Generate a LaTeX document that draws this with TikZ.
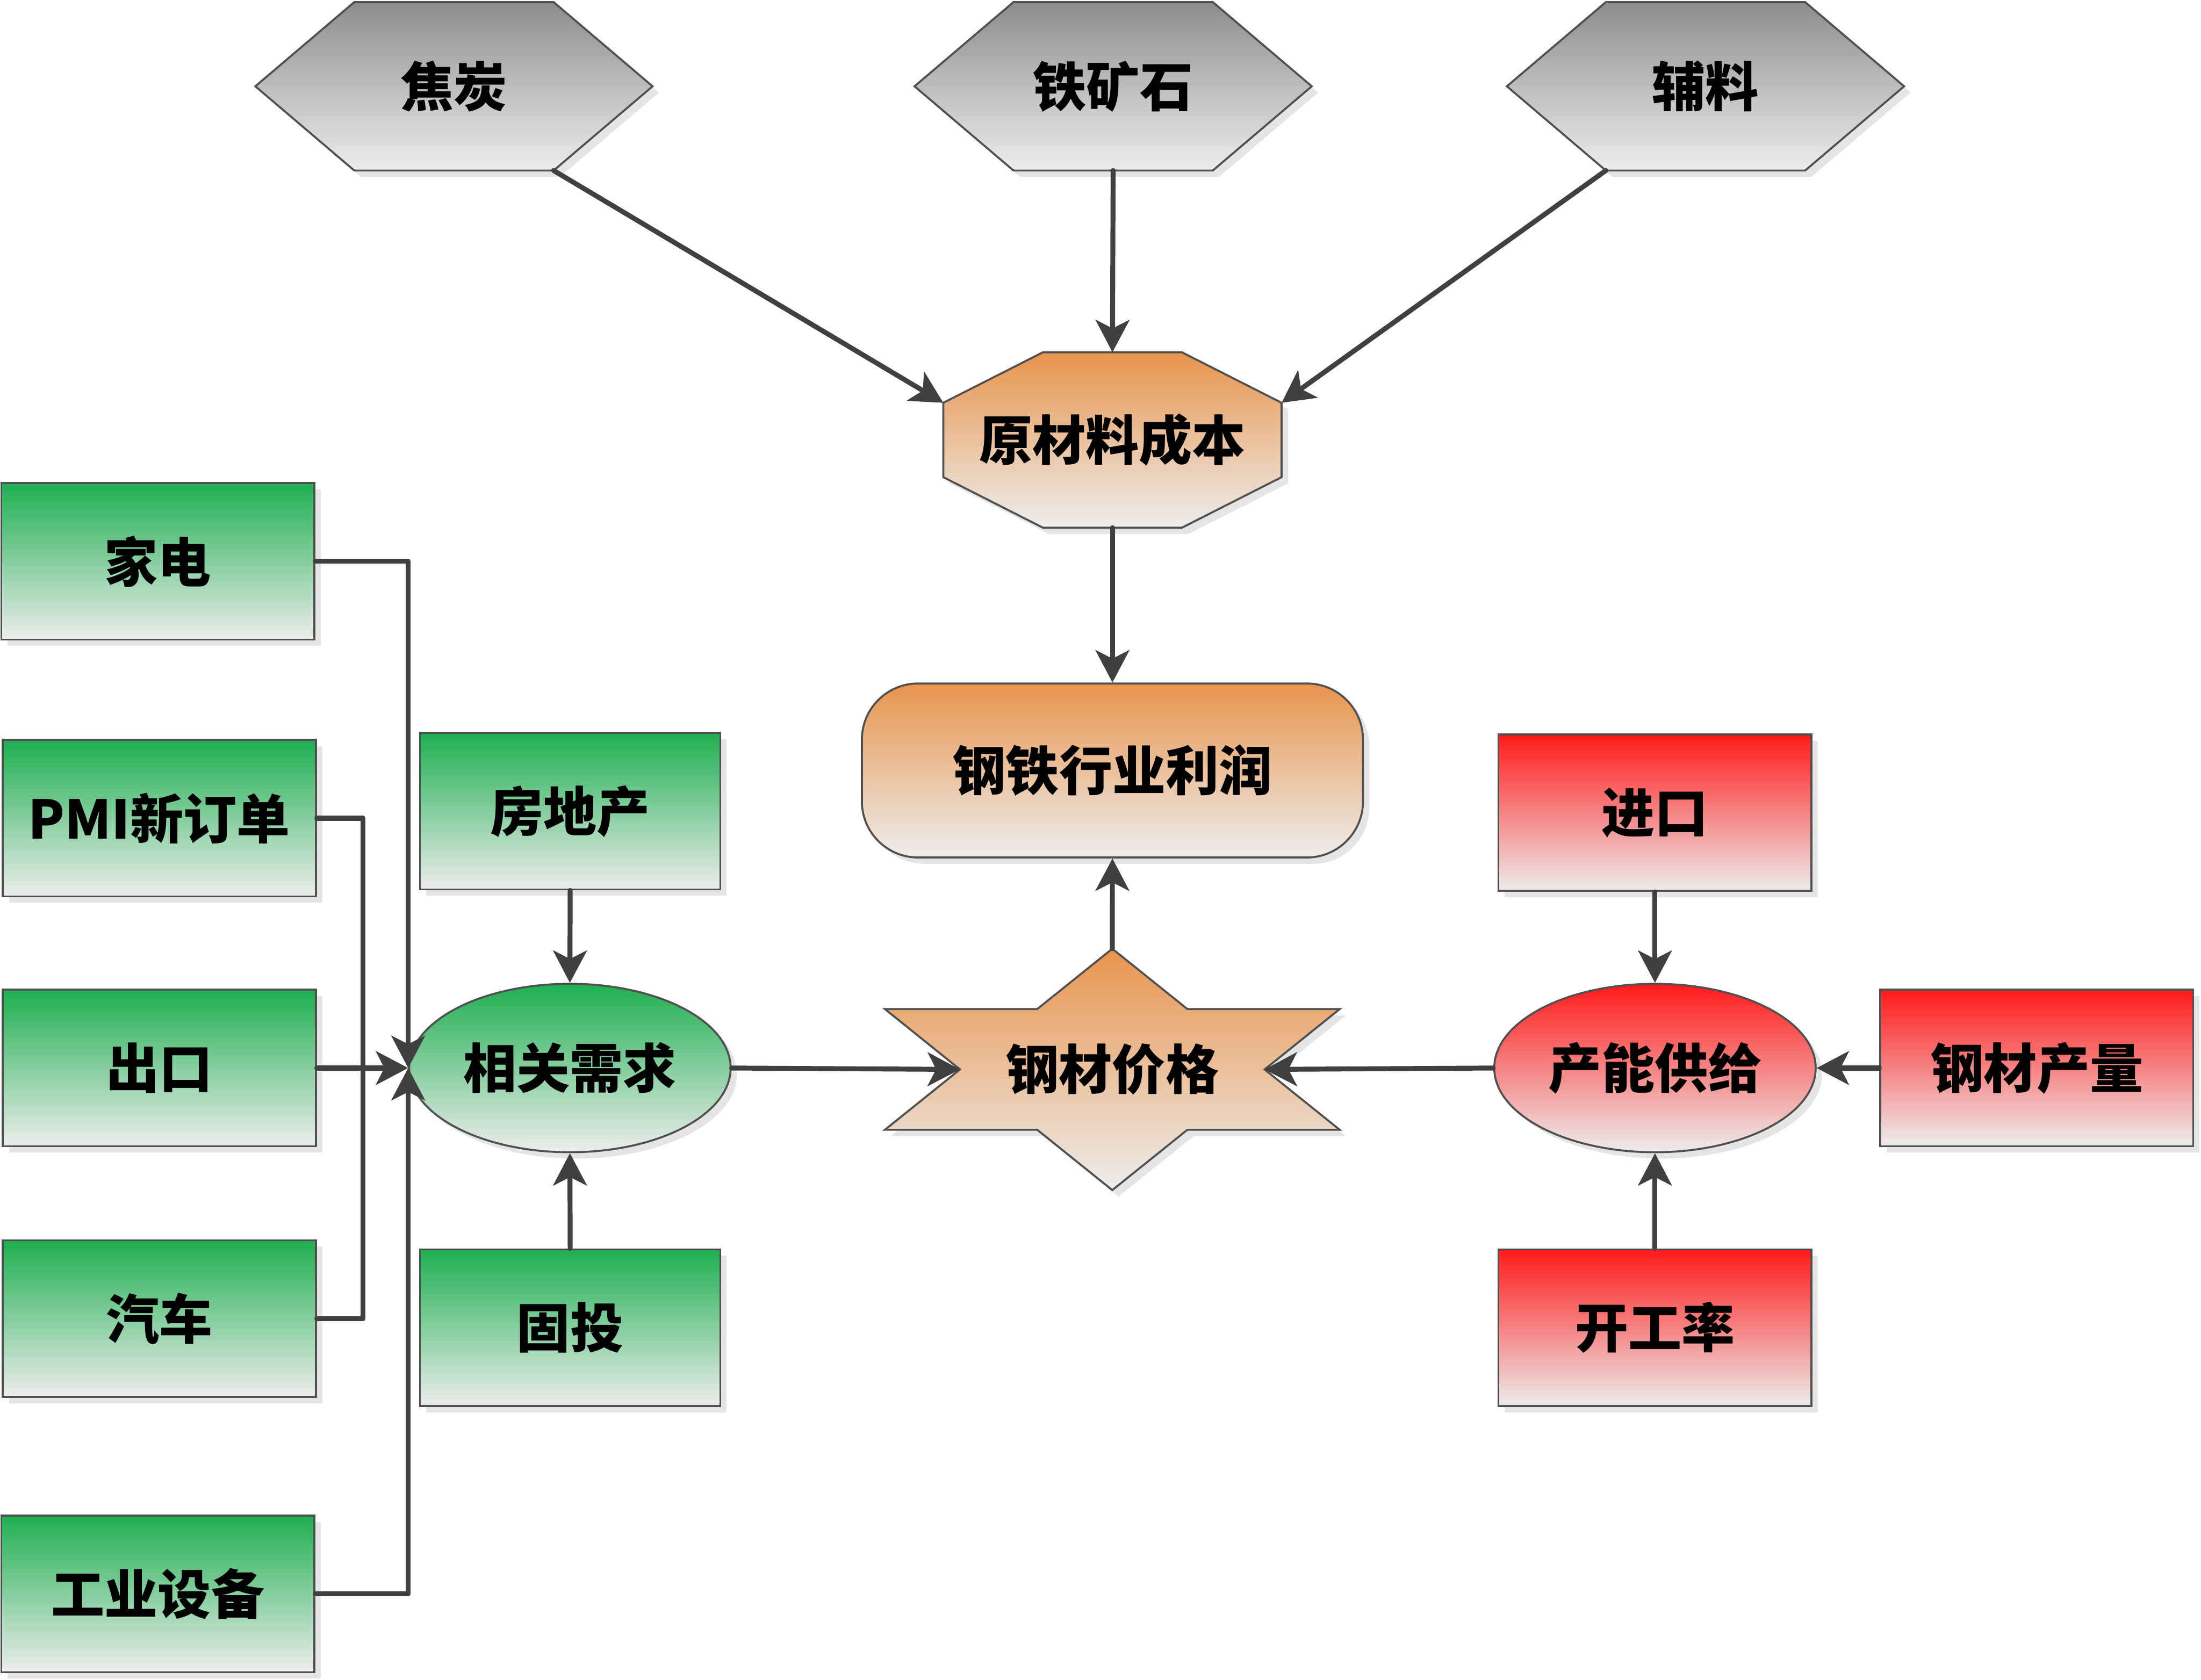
\documentclass[tikz,border=0pt]{standalone}
\usepackage{fontspec}
\setmainfont{Noto Sans CJK SC}
\usetikzlibrary{shapes.geometric,shadows,arrows.meta}
\definecolor{linegray}{HTML}{404040}
\definecolor{edgegray}{HTML}{505050}
\definecolor{boxgreen}{HTML}{1EAF50}
\definecolor{boxred}{HTML}{FF1A1A}
\definecolor{boxorange}{HTML}{E8944C}
\definecolor{boxgray}{HTML}{8C8C8C}
\definecolor{fadegray}{HTML}{EDEDED}
\begin{document}
\begin{tikzpicture}[x=0.1mm,y=-0.1mm,
    txt/.style={font=\fontsize{10.8pt}{12pt}\bfseries\selectfont,inner sep=0pt},
    shadowed/.style={draw=edgegray,line width=0.4pt,
      drop shadow={shadow xshift=0.45mm,shadow yshift=-0.45mm,fill=black!10,opacity=1}},
    factor/.style={txt,shadowed,rectangle,minimum width=22.3mm,minimum height=11.15mm,
      top color=#1,bottom color=fadegray},
    hub/.style={txt,shadowed,ellipse,minimum width=22.9mm,minimum height=12mm,
      top color=#1,bottom color=fadegray},
    conn/.style={draw=linegray,line width=1pt,line cap=round,line join=round},
    arr/.style={conn,-{Stealth[length=2.3mm,width=2.4mm,inset=0.6mm]}}]
  \useasboundingbox (0,0) rectangle (1568,1197);

  \foreach \nm/\cx/\txt in {coke/323.4/焦炭,ore/793/铁矿石,aux/1215/辅料} {
    \shade[shadowed,top color=boxgray,bottom color=fadegray]
      (\cx-141.5,61.5) -- (\cx-71,1.5) -- (\cx+71,1.5) -- (\cx+141.5,61.5)
      -- (\cx+71,121.5) -- (\cx-71,121.5) -- cycle;
    \node[txt] (\nm) at (\cx,61.5) {\txt};
    \coordinate (\nm-sw) at (\cx-71,121.5);
    \coordinate (\nm-s) at (\cx,121.5);
    \coordinate (\nm-se) at (\cx+71,121.5);
  }

  \shade[shadowed,top color=boxorange,bottom color=fadegray]
    (743,251) -- (842,251) -- (913,287) -- (913,340) -- (842,376)
    -- (743,376) -- (672,340) -- (672,287) -- cycle;
  \node[txt] (cost) at (792.5,313.5) {原材料成本};
  \coordinate (cost-nw) at (672,287);
  \coordinate (cost-n) at (792.5,251);
  \coordinate (cost-ne) at (913,287);
  \coordinate (cost-s) at (792.5,376);

  \node[txt,shadowed,rectangle,rounded corners=4mm,minimum width=35.7mm,minimum height=12.4mm,
    top color=boxorange,bottom color=fadegray] (profit) at (792.5,549) {钢铁行业利润};

  \shade[shadowed,top color=boxorange,bottom color=fadegray]
    (792.4,676) -- (845.9,719) -- (954.4,719) -- (900.9,762) -- (954.4,805)
    -- (845.9,805) -- (792.4,848) -- (738.9,805) -- (630.4,805) -- (683.9,762)
    -- (630.4,719) -- (738.9,719) -- cycle;
  \node[txt] (price) at (792.4,762) {钢材价格};
  \coordinate (price-n) at (792.4,676);
  \coordinate (price-w) at (683.9,762);
  \coordinate (price-e) at (900.9,762);

  \node[factor=boxgreen] (home) at (112.5,400) {家电};
  \node[factor=boxgreen] (pmi) at (113.5,583) {PMI新订单};
  \node[factor=boxgreen] (export) at (113.5,761) {出口};
  \node[factor=boxgreen] (car) at (113.5,939.5) {汽车};
  \node[factor=boxgreen] (equip) at (112.5,1135.7) {工业设备};
  \node[factor=boxgreen,minimum width=21.4mm] (estate) at (406.2,578) {房地产};
  \node[factor=boxgreen,minimum width=21.4mm] (invest) at (406.2,946) {固投};
  \node[hub=boxgreen] (demand) at (406,761) {相关需求};

  \node[factor=boxred] (import) at (1179,579) {进口};
  \node[factor=boxred] (rate) at (1179,946) {开工率};
  \node[factor=boxred] (output) at (1451,761) {钢材产量};
  \node[hub=boxred] (supply) at (1179,761) {产能供给};

  \draw[arr] (coke-se) -- (cost-nw);
  \draw[arr] (ore-s) -- (cost-n);
  \draw[arr] (aux-sw) -- (cost-ne);
  \draw[arr] (cost-s) -- (profit.north);
  \draw[arr] (price-n) -- (profit.south);

  \draw[arr] (home.east) -| (demand.west);
  \draw[arr] (export.east) -- (demand.west);
  \draw[arr] (equip.east) -| (demand.west);
  \draw[conn] (pmi.east) -- +(33,0) |- (car.east);
  \draw[arr] (estate.south) -- (demand.north);
  \draw[arr] (invest.north) -- (demand.south);
  \draw[arr] (demand.east) -- (price-w);

  \draw[arr] (import.south) -- (supply.north);
  \draw[arr] (rate.north) -- (supply.south);
  \draw[arr] (output.west) -- (supply.east);
  \draw[arr] (supply.west) -- (price-e);
\end{tikzpicture}
\end{document}
